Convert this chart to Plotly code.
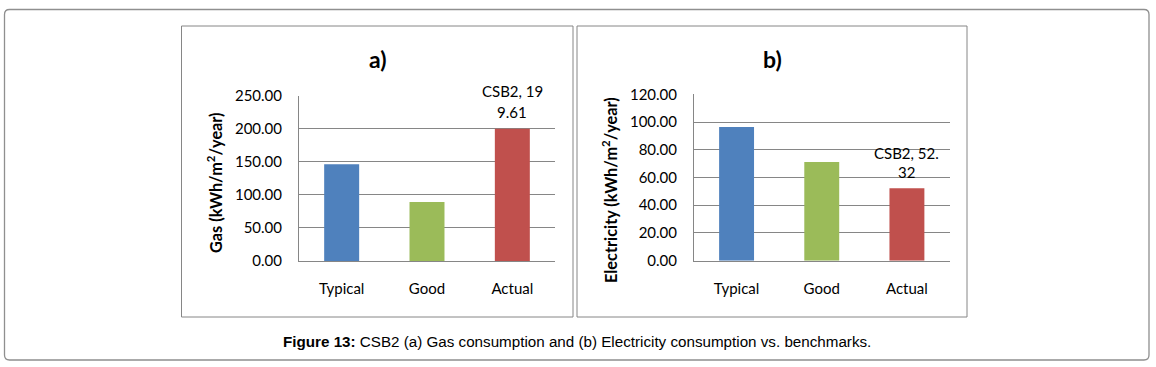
import plotly.graph_objects as go

W, H = 1156, 367

categories = ["Typical", "Good", "Actual"]
gas_values = [146.0, 89.0, 199.61]
elec_values = [96.5, 71.2, 52.32]
bar_colors = ["#4F81BD", "#9BBB59", "#C0504D"]
gas_label_lines = ["CSB2, 19", "9.61"]
elec_label_lines = ["CSB2, 52.", "32"]
gas_ticks = [0, 50, 100, 150, 200, 250]
elec_ticks = [0, 20, 40, 60, 80, 100, 120]
panel_titles = ["a)", "b)"]
y_titles = ["Gas (kWh/m<sup>2</sup>/year)", "Electricity (kWh/m<sup>2</sup>/year)"]
caption = "<b>Figure 13:</b> CSB2 (a) Gas consumption and (b) Electricity consumption vs. benchmarks."

GRID = "#868686"
FONT = "Lato"


def px(x):
    return x / W


def py(y):
    return (H - y) / H


fig = go.Figure()
fig.add_trace(go.Bar(x=categories, y=gas_values, marker=dict(color=bar_colors, line=dict(width=0)),
                     width=0.41, xaxis="x", yaxis="y", showlegend=False))
fig.add_trace(go.Bar(x=categories, y=elec_values, marker=dict(color=bar_colors, line=dict(width=0)),
                     width=0.41, xaxis="x2", yaxis="y2", showlegend=False))

xcommon = dict(showgrid=False, showline=True, linecolor=GRID, linewidth=1, ticks="",
               tickfont=dict(family=FONT, size=15, color="#000"), fixedrange=True,
               ticklabelstandoff=14, automargin=False)
ycommon = dict(showgrid=True, gridcolor=GRID, gridwidth=1, showline=True, linecolor=GRID, linewidth=1,
               zeroline=False, ticks="", tickformat=".2f", fixedrange=True, automargin=False,
               tickfont=dict(family=FONT, size=15, color="#000"), ticklabelstandoff=13)

fig.update_layout(
    width=W, height=H, margin=dict(l=0, r=0, t=0, b=0, pad=0), autosize=False,
    paper_bgcolor="white", plot_bgcolor="white",
    xaxis=dict(domain=[px(299), px(555)], anchor="y", **xcommon),
    yaxis=dict(domain=[py(261), py(95.5)], anchor="x", range=[0, 250], tickvals=gas_ticks, **ycommon),
    xaxis2=dict(domain=[px(694), px(949.5)], anchor="y2", **xcommon),
    yaxis2=dict(domain=[py(260.7), py(94.3)], anchor="x2", range=[0, 120], tickvals=elec_ticks, **ycommon),
)

shapes = []
# panel borders
for (x0, x1) in [(181.5, 573), (577, 967)]:
    shapes.append(dict(type="rect", xref="paper", yref="paper", x0=px(x0), x1=px(x1), y0=py(317), y1=py(26),
                       line=dict(color=GRID, width=1)))
# outer rounded frame
L, R, T, B, r = 4.5, 1149, 9.5, 360, 5
path = (f"M {px(L + r)},{py(T)} L {px(R - r)},{py(T)} Q {px(R)},{py(T)} {px(R)},{py(T + r)} "
        f"L {px(R)},{py(B - r)} Q {px(R)},{py(B)} {px(R - r)},{py(B)} "
        f"L {px(L + r)},{py(B)} Q {px(L)},{py(B)} {px(L)},{py(B - r)} "
        f"L {px(L)},{py(T + r)} Q {px(L)},{py(T)} {px(L + r)},{py(T)} Z")
shapes.append(dict(type="path", xref="paper", yref="paper", path=path, line=dict(color="#8f8f8f", width=1.3)))
fig.update_layout(shapes=shapes)

ann = []
# panel titles
for title, cx in zip(panel_titles, [377.5, 772]):
    ann.append(dict(text=f"<b>{title}</b>", xref="paper", yref="paper", x=px(cx), y=py(59),
                    xanchor="center", yanchor="middle", showarrow=False,
                    font=dict(family=FONT, size=23, color="#000")))
# y titles
for t, cx, cy in zip(y_titles, [214, 609], [183, 190]):
    ann.append(dict(text=f"<b>{t}</b>", xref="paper", yref="paper", x=px(cx), y=py(cy), textangle=-90,
                    xanchor="center", yanchor="middle", showarrow=False,
                    font=dict(family=FONT, size=16.3, color="#000")))
# data labels
for lines, xr, yr, val, shifts in [(gas_label_lines, "x", "y", gas_values[2], [38, 17]),
                                   (elec_label_lines, "x2", "y2", elec_values[2], [35.5, 16])]:
    for line, s in zip(lines, shifts):
        ann.append(dict(text=line, xref=xr, yref=yr, x=categories[2], y=val, yshift=s,
                        xanchor="center", yanchor="middle", showarrow=False,
                        font=dict(family=FONT, size=15, color="#000")))
# caption
ann.append(dict(text=caption, xref="paper", yref="paper", x=px(577), y=py(341),
                xanchor="center", yanchor="middle", showarrow=False,
                font=dict(family="Liberation Sans", size=15.2, color="#000")))
fig.update_layout(annotations=ann)

fig.write_html("out.html", config={"displayModeBar": False, "responsive": False},
               post_script="document.body.style.margin='0';document.body.style.overflow='hidden';")
